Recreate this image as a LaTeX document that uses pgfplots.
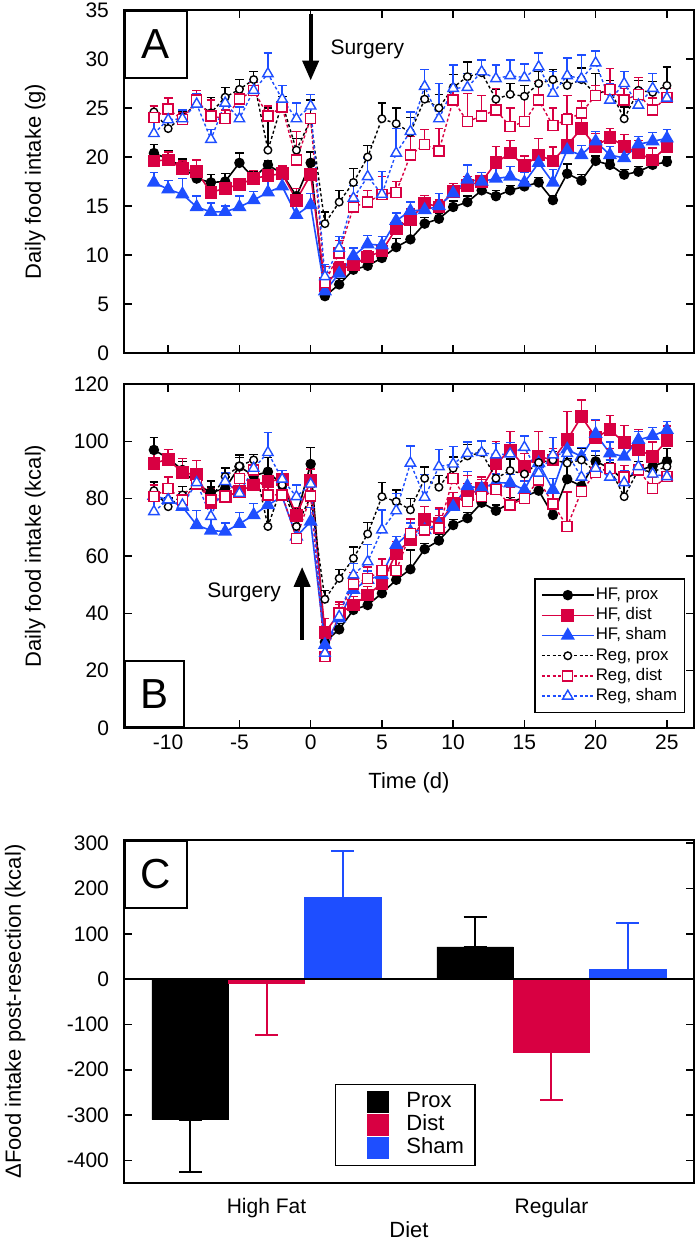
\documentclass[border=0pt]{standalone}
\usepackage{fontspec}
\setmainfont{Liberation Sans}
\usepackage{pgfplots}
\usepackage{pgfplotstable}
\pgfplotsset{compat=1.18}
\usetikzlibrary{arrows.meta}

\definecolor{cred}{RGB}{216,0,66}
\definecolor{cblue}{RGB}{30,78,255}

% daily intake in grams (panel A); *e = upper error
\pgfplotstableread{
d hp hpe hd hde hs hse rp rpe rd rde rs rse
-11 20.4 0.9 19.6 0.6 17.4 1.0 24.6 0.6 24.0 1.2 22.4 1.4
-10 19.8 0.8 19.7 0.8 16.7 0.9 22.9 0.7 24.9 1.1 23.8 0.9
-9 19.0 0.8 18.8 0.8 16.2 1.6 24.1 0.5 23.8 0.7 23.9 0.9
-8 17.8 0.7 18.5 1.2 14.9 1.1 25.5 0.7 25.8 1.0 25.4 1.1
-7 17.4 0.8 16.4 1.1 14.4 0.9 24.5 1.6 24.2 1.6 21.8 1.0
-6 17.5 0.8 16.8 0.8 14.4 0.6 26.1 1.0 23.9 0.9 25.5 0.7
-5 19.4 1.0 17.2 0.6 14.9 1.1 26.9 1.0 25.9 1.1 23.9 1.2
-4 17.9 0.6 17.8 0.8 15.6 0.9 27.9 0.8 26.8 0.8 26.8 0.9
-3 19.2 0.4 18.1 0.9 16.4 1.1 20.7 4.3 24.2 1.0 28.5 2.1
-2 18.3 0.7 18.3 0.8 17.0 0.8 25.5 0.7 25.1 0.5 25.9 1.4
-1 16.0 0.8 15.6 1.2 14.1 1.2 20.7 1.2 19.7 2.9 23.9 1.6
0 19.4 1.1 18.2 0.6 15.1 1.2 23.8 2.0 23.9 0.5 25.2 1.2
1 5.8 0.5 6.9 1.9 6.3 1.2 13.2 1.2 7.2 1.0 7.8 1.2
2 7.0 0.6 8.5 0.8 8.1 0.9 15.4 1.2 10.2 1.3 10.7 1.2
3 8.5 0.5 9.0 0.6 9.9 0.8 17.4 1.4 14.9 1.1 15.8 1.3
4 8.9 0.5 9.8 0.6 11.1 0.9 20.0 1.2 15.4 1.2 18.0 1.9
5 9.7 0.5 10.4 0.6 11.0 0.9 23.9 1.6 16.2 1.8 16.2 2.3
6 10.8 0.9 12.7 0.8 13.5 0.8 23.4 1.6 16.4 1.1 20.4 2.5
7 11.6 1.6 13.6 1.1 14.5 0.9 22.5 1.5 20.2 1.9 22.6 2.0
8 13.2 0.6 15.3 0.8 14.6 0.8 25.9 1.3 21.3 1.5 27.2 1.7
9 13.7 0.6 14.9 0.7 15.0 1.3 25.0 1.4 20.6 2.3 23.9 3.6
10 14.9 0.6 16.5 0.8 16.3 0.8 27.1 1.3 25.8 1.2 27.0 2.4
11 15.4 0.6 17.1 0.9 17.7 1.5 28.2 1.5 23.6 2.9 27.1 1.4
12 16.6 0.5 17.5 0.9 17.5 0.9 28.6 1.3 24.2 2.1 28.7 1.2
13 16.0 0.6 19.4 1.7 17.8 1.0 25.9 1.0 24.8 2.2 28.0 1.4
14 16.6 0.5 20.4 1.3 18.0 1.0 26.4 1.1 23.1 1.9 28.3 1.6
15 17.0 0.5 19.1 1.0 17.4 1.0 26.2 1.1 23.6 2.6 28.1 1.4
16 17.4 0.5 20.2 1.7 19.4 1.1 27.5 1.2 25.8 1.9 29.2 1.4
17 15.6 0.5 19.6 1.4 17.4 1.3 27.9 1.0 23.2 1.8 26.5 2.2
18 18.3 1.0 21.2 3.2 20.7 0.7 27.3 1.0 23.8 2.5 28.3 1.8
19 17.6 0.6 22.9 1.4 20.2 1.0 27.9 1.2 24.5 1.2 28.0 2.4
20 19.6 0.5 21.1 1.3 21.6 1.0 26.4 2.1 26.3 1.0 29.6 1.2
21 19.2 0.5 22.0 0.9 20.2 0.9 26.9 0.9 26.9 2.1 25.8 1.7
22 18.2 0.5 21.1 1.2 19.9 1.2 23.9 1.2 25.8 1.2 27.5 1.2
23 18.5 0.5 20.4 1.3 21.3 0.8 26.8 1.0 26.4 1.7 25.3 1.7
24 19.2 0.5 19.7 1.2 21.6 0.9 26.6 1.1 24.8 1.2 27.0 1.5
25 19.5 0.5 21.1 0.9 21.9 0.9 27.3 1.9 26.1 0.9 26.0 1.4
}\intakeg

% daily intake in kcal (panel B)
\pgfplotstableread{
d hp hpe hd hde hs hse rp rpe rd rde rs rse
-11 97.0 4.4 92.4 4 81.0 4 82.8 3 80.7 4 75.5 5
-10 94.1 3 93.7 3.5 79.6 3 77.2 3 83.6 4 79.6 4
-9 90.0 3 89.1 5 77.2 4 81.3 3 79.6 3 77.8 4
-8 85.1 3 88.3 5 70.8 5 85.1 3 85.1 3 85.6 3
-7 82.1 4 78.6 5 68.9 4 80.0 4 79.6 4 73.8 4
-6 83.6 4 80.7 4 68.5 3 87.7 3 80.7 3 86.0 3
-5 91.2 4 82.5 3 71.2 4 91.4 3 87.1 3 81.9 4
-4 88.0 3 84.8 3 74.3 4 93.5 2 90.0 3 90.6 3
-3 89.4 5 86.0 3 77.8 4 70.3 10 81.3 3 96.1 7
-2 84.8 3 86.8 2 80.7 3 84.8 3 81.3 3 86.8 3
-1 73.7 3 74.0 3 66.8 4 70.3 4 66.2 4 80.7 4
0 92.1 5.8 86.3 4 72.0 5 80.7 4 80.9 3 85.1 3
1 30.0 2 33.3 5 29.0 4 44.9 3 24.9 4 26.1 4
2 34.4 2 40.0 3 38.3 3 52.2 3 40.0 4 38.9 3
3 41.2 2 42.9 3 48.2 3 59.2 4 50.3 4 53.4 4
4 42.9 2 46.4 3 51.7 3 67.7 4 52.2 4 58.0 6
5 47.0 2 50.5 3 53.4 3 80.7 5 54.9 4 69.1 7
6 51.7 3 61.0 4 63.9 3 79.0 4 54.9 4 75.8 6
7 55.4 6.7 65.6 4 68.5 3 76.1 4 67.9 5 92.4 6
8 62.4 2 72.8 4.4 69.1 3 87.1 4 69.1 5 80.5 8
9 65.4 2 71.2 3 71.2 5 84.0 4 69.7 7 91.2 6
10 70.8 2 78.2 4 77.2 3 90.6 4 87.1 4 92.1 6
11 73.2 2 81.3 4 84.4 5 94.9 4 79.0 9 95.8 4
12 78.6 2 83.6 4 83.6 3 96.1 4 80.7 6 96.1 4
13 75.8 2 92.1 7.8 85.6 3 87.1 4 83.1 7 95.3 4
14 78.4 2 97.0 6.4 85.4 3 89.8 4 77.8 6 95.6 4
15 80.7 2 91.2 4.6 83.1 3 88.6 4 80.1 8 97.9 4
16 82.8 2 94.7 8.7 92.4 4 92.6 4 86.5 6 88.9 5
17 74.3 2 93.5 4 83.1 4 93.5 3 78.2 5 95.3 6
18 86.8 7.3 100.5 9.9 97.2 3 92.4 3 70.3 12 95.8 6
19 84.4 2 108.6 5.8 94.7 3 93.5 4 82.5 4 87.5 8
20 93.0 2 101.4 6 102.6 5 89.4 7 89.1 3 90.6 6
21 90.6 2 104.0 5 95.8 4 90.6 3 90.6 7 87.5 6
22 86.3 2 99.6 6 94.7 5 80.7 4 87.5 4 85.6 4
23 89.8 2 97.2 7 100.5 3 90.0 3 90.0 6 91.2 6
24 91.4 2 94.7 5 101.9 3 89.4 4 83.6 4 88.6 5
25 93.0 4.6 100.3 5 104.0 3 91.2 3 87.7 3 87.7 5
}\intakekcal

\pgfplotsset{
  panel/.style={
    scale only axis, width=285pt,
    axis line style={line width=1pt},
    tick style={black, line width=0.8pt},
    major tick length=4pt, tick align=inside,
    /pgf/number format/assume math mode=true,
    tick label style={font=\fontsize{10.5}{12}\selectfont},
    yticklabel style={xshift=-4pt},
    label style={font=\fontsize{11}{13}\selectfont},
  },
  errs/.style={
    error bars/y dir=plus, error bars/y explicit,
    error bars/error bar style={solid, line width=0.7pt},
    error bars/error mark options={rotate=90, solid, mark size=2.2pt, line width=0.7pt},
  },
  hfp/.style={black, line width=0.8pt, mark=*, mark size=2.2pt, errs},
  hfd/.style={cred, line width=0.8pt, mark=square*, mark size=2.8pt, errs},
  hfs/.style={cblue, line width=0.8pt, mark=triangle*, mark size=3.3pt, errs},
  rgp/.style={black, line width=0.7pt, dash pattern=on 1.5pt off 1.2pt,
    mark=*, mark size=1.9pt, mark options={solid, fill=white}, errs},
  rgd/.style={cred, line width=0.7pt, dash pattern=on 1.5pt off 1.2pt,
    mark=square*, mark size=2.5pt, mark options={solid, fill=white}, errs},
  rgs/.style={cblue, line width=0.7pt, dash pattern=on 1.5pt off 1.2pt,
    mark=triangle*, mark size=3pt, mark options={solid, fill=white}, errs},
  barerr/.style={
    error bars/error bar style={#1, line width=1pt},
    error bars/error mark options={rotate=90, #1, mark size=5.7pt, line width=1pt},
  },
}
\tikzset{
  panelbox/.style={draw, line width=0.8pt, fill=white, inner sep=0pt,
    font=\fontsize{21}{21}\selectfont},
}

\begin{document}
\begin{tikzpicture}
\useasboundingbox (0,0) rectangle (350pt,622pt);

% ---- A: grams
\begin{axis}[panel, at={(62pt,445.5pt)}, anchor=south west, height=171.5pt,
  xmin=-13.1, xmax=26.9, ymin=0, ymax=35,
  xtick={-10,-5,...,25}, xticklabels={}, ytick={0,5,...,35},
  ylabel={Daily food intake (g)},
  ylabel style={at={(axis description cs:-0.156,0.5)}, anchor=center}]
\addplot[hfp] table[x=d, y=hp, y error=hpe] {\intakeg};
\addplot[hfd] table[x=d, y=hd, y error=hde] {\intakeg};
\addplot[hfs] table[x=d, y=hs, y error=hse] {\intakeg};
\addplot[rgp] table[x=d, y=rp, y error=rpe] {\intakeg};
\addplot[rgd] table[x=d, y=rd, y error=rde] {\intakeg};
\addplot[rgs] table[x=d, y=rs, y error=rse] {\intakeg};
\draw[line width=2pt, -{Triangle[length=10pt, width=8pt]}] (axis cs:0,34.6) -- (axis cs:0,27.8);
\node[anchor=west, font=\fontsize{10.5}{12}\selectfont] at (axis cs:0.9,31) {Surgery};
\node[panelbox, anchor=north west, minimum width=31pt, minimum height=33.5pt] at (rel axis cs:0,1) {A};
\end{axis}

% ---- B: kcal
\begin{axis}[panel, at={(62pt,258pt)}, anchor=south west, height=172pt,
  xmin=-13.1, xmax=26.9, ymin=0, ymax=120,
  xtick={-10,-5,...,25}, ytick={0,20,...,120},
  ylabel={Daily food intake (kcal)},
  ylabel style={at={(axis description cs:-0.156,0.5)}, anchor=center},
  xlabel={Time (d)},
  xlabel style={at={(axis description cs:0.5,-0.16)}, anchor=center},
  legend style={at={(rel axis cs:0.72,0.044)}, anchor=south west,
    draw=black, line width=0.6pt, font=\fontsize{8.4}{9}\selectfont,
    row sep=0pt, inner xsep=3pt, inner ysep=3pt,
    nodes={inner sep=0.6pt, text height=6.6pt, text depth=2.3pt}},
  legend cell align=left,
  legend image code/.code={\draw[mark repeat=2, mark phase=2, #1]
    plot coordinates {(0pt,0pt) (13pt,0pt) (26pt,0pt)};}]
\addplot[hfp] table[x=d, y=hp, y error=hpe] {\intakekcal};
\addlegendentry{HF, prox}
\addplot[hfd] table[x=d, y=hd, y error=hde] {\intakekcal};
\addlegendentry{HF, dist}
\addplot[hfs] table[x=d, y=hs, y error=hse] {\intakekcal};
\addlegendentry{HF, sham}
\addplot[rgp] table[x=d, y=rp, y error=rpe] {\intakekcal};
\addlegendentry{Reg, prox}
\addplot[rgd] table[x=d, y=rd, y error=rde] {\intakekcal};
\addlegendentry{Reg, dist}
\addplot[rgs] table[x=d, y=rs, y error=rse] {\intakekcal};
\addlegendentry{Reg, sham}
\draw[line width=2pt, -{Triangle[length=10pt, width=8pt]}] (axis cs:-0.6,30.7) -- (axis cs:-0.6,56.2);
\node[anchor=east, font=\fontsize{10.5}{12}\selectfont] at (axis cs:-1.6,47.4) {Surgery};
\node[panelbox, anchor=south west, minimum width=29.5pt, minimum height=33pt] at (rel axis cs:0,0) {B};
\end{axis}

% ---- C: change in intake
\begin{axis}[panel, at={(62pt,30.5pt)}, anchor=south west, height=171.5pt,
  xmin=-0.5, xmax=1.5, ymin=-450, ymax=307,
  xtick={0,1}, xticklabels={High Fat,Regular}, x tick style={draw=none},
  ytick={-400,-300,...,300},
  ybar, bar width=0.268,
  ylabel={ΔFood intake post-resection (kcal)},
  ylabel style={at={(axis description cs:-0.191,0.5)}, anchor=center},
  xlabel={Diet},
  xlabel style={at={(axis description cs:0.5,-0.137)}, anchor=center},
  error bars/y dir=both, error bars/y explicit,
  legend style={at={(rel axis cs:0.37,0.05)}, anchor=south west,
    draw=black, line width=0.6pt, font=\fontsize{11}{11}\selectfont,
    row sep=0pt, inner xsep=5pt, inner ysep=3pt,
    nodes={inner sep=0.5pt, text height=8pt, text depth=2.5pt}},
  legend cell align=left,
  legend image code/.code={\fill[#1] (11pt,-5.25pt) rectangle (21.5pt,5.25pt);
    \path[draw=none, fill=none] (0pt,0pt) -- (30pt,0pt);}]
\addplot[black, fill=black, bar shift=-0.268, barerr=black]
  coordinates {(0,-310) += (0,0) -= (0,115) (1,71) += (0,66) -= (0,0)};
\addlegendentry{Prox}
\addplot[cred, fill=cred, bar shift=0, barerr=cred]
  coordinates {(0,-9) += (0,0) -= (0,115) (1,-161) += (0,0) -= (0,106)};
\addlegendentry{Dist}
\addplot[cblue, fill=cblue, bar shift=0.268, barerr=cblue]
  coordinates {(0,180) += (0,103) -= (0,0) (1,21) += (0,102) -= (0,0)};
\addlegendentry{Sham}
\draw[line width=1pt] (axis cs:-0.5,0) -- (axis cs:1.5,0);
\node[panelbox, anchor=north west, minimum width=31pt, minimum height=33.5pt] at (rel axis cs:0,1) {C};
\end{axis}
\end{tikzpicture}
\end{document}
